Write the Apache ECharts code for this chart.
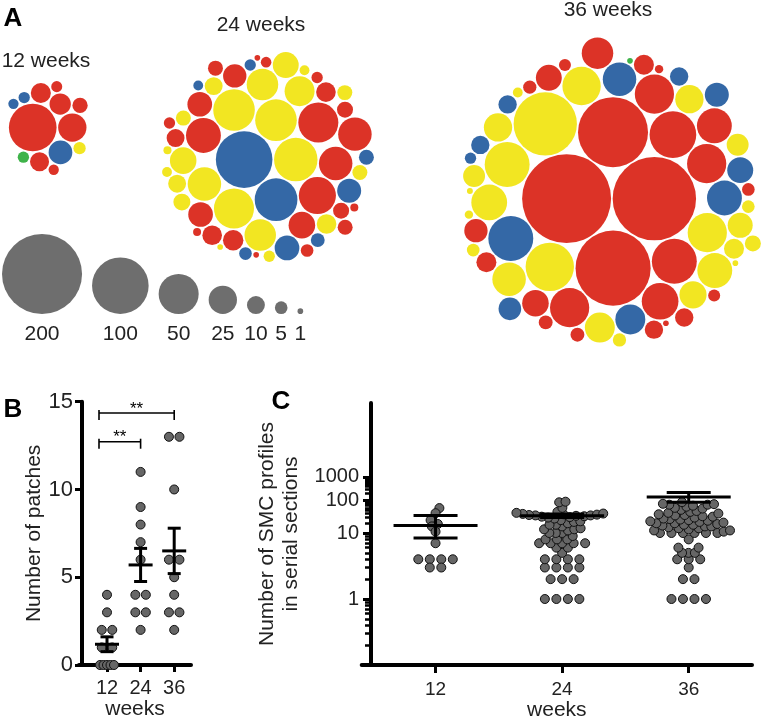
<!DOCTYPE html>
<html>
<head>
<meta charset="utf-8">
<script src="https://cdn.jsdelivr.net/npm/echarts@6/dist/echarts.min.js"></script>
<style>
  html, body { margin: 0; padding: 0; background: #fff; }
  #chart { width: 780px; height: 721px; }
</style>
</head>
<body>
<div id="chart"></div>
<script>
// ---------- data ----------
// panel A: patch sizes (SMC profiles) and reporter colour of each patch
const sizes12 = [71, 25, 12.5, 17.5, 7.3, 4.7, 11.3, 4, 14.2, 3.8, 3.3, 4, 3.3];
const cols12  = ['r', 'r', 'r', 'b', 'r', 'y', 'r', 'b', 'r', 'r', 'r', 'g', 'b'];

const sizes24 = [100, 50, 50, 43, 54, 59, 57, 54, 38, 31, 35, 13, 8, 18, 7, 4, 4, 19, 17, 7,
                 31, 12, 19, 4, 6, 1, 19, 7, 22, 10, 5, 3, 2, 12, 22, 35, 10, 21, 10, 35,
                 12, 9, 28, 8, 4, 1, 3, 3, 5, 1, 7, 2, 2, 7, 7, 3.5];
const cols24  = ['b', 'y', 'r', 'r', 'y', 'y', 'b', 'y', 'r', 'y', 'y', 'r', 'r', 'b', 'y', 'b', 'y', 'b', 'r', 'r',
                 'y', 'y', 'r', 'r', 'b', 'y', 'r', 'r', 'r', 'y', 'b', 'y', 'r', 'r', 'y', 'r', 'r', 'y', 'y', 'r',
                 'r', 'y', 'y', 'r', 'r', 'r', 'y', 'b', 'r', 'r', 'y', 'y', 'r', 'b', 'y', 'r'];

const sizes36 = [247, 217, 176, 153, 125, 73, 63, 48, 48, 63, 68, 48, 63, 38, 38, 42, 48, 40, 35, 35,
                 28, 15, 5.5, 17, 1.1, 22, 8, 4, 25, 10.5, 19.5, 4.5, 5, 21, 28, 12.5, 21, 5.5, 5, 2.2,
                 2.2, 5, 10.5, 4.5, 3, 10.5, 18, 6, 16, 38, 31, 6, 46, 1, 12.5, 25, 1, 15, 10.5, 23,
                 10.5, 1, 12.5];
const cols36  = ['r', 'r', 'r', 'r', 'y', 'y', 'r', 'r', 'y', 'b', 'r', 'r', 'y', 'b', 'r', 'r', 'r', 'y', 'b', 'y',
                 'b', 'y', 'r', 'r', 'y', 'r', 'y', 'b', 'y', 'r', 'y', 'r', 'y', 'r', 'y', 'y', 'b', 'y', 'r', 'y',
                 'r', 'y', 'b', 'r', 'y', 'b', 'b', 'r', 'b', 'y', 'r', 'r', 'y', 'r', 'r', 'y', 'g', 'y', 'r', 'y',
                 'b', 'y', 'r'];

const legendSizes = [200, 100, 50, 25, 10, 5, 1];

// panel B: number of patches per mouse
const weeks = [12, 24, 36];
const patches12 = [4, 3, 2, 2, 1, 1, 0, 0, 0, 0, 0];
const patches24 = [11, 9, 8, 7, 6, 4, 4, 3, 3, 2];
const patches36 = [13, 13, 10, 6, 6, 5, 4, 3, 3, 2];

// panel C: SMC profiles per patch
const profiles12 = [59, 41, 25, 19, 16, 11, 7, 4, 4, 4, 4, 3, 3];
const profiles24 = [1, 1, 1, 1, 2, 2, 2, 3, 3, 3, 3, 4, 4, 4, 4, 5, 6, 6, 7, 7, 7, 7, 7, 8, 8, 8, 9,
                    10, 10, 10, 12, 13, 13, 14, 16, 18, 18, 20, 22, 23, 25, 28, 30, 31, 32, 33, 34, 35, 35,
                    36, 37, 38, 39, 40, 42, 45, 60, 89, 93];
const profiles36 = [1, 1, 1, 1, 2, 2, 3, 4, 4, 4, 5, 5, 5, 6, 6, 8, 10, 10, 10, 10, 10, 10,
                    11, 12, 12, 13, 14, 14, 15, 16, 16, 17, 18, 18, 19, 20, 20, 21, 22, 23, 24, 25, 26, 27,
                    28, 30, 32, 33, 35, 36, 38, 40, 42, 45, 48, 52, 57, 60, 65, 70, 75, 75, 78, 80, 90];
// mean and error bar ends as drawn in panel C
const profMean = [17, 34, 142];
const profLow  = [8.4, 30, 89];
const profHigh = [35, 39, 222];

// panel C axis: decades and where they sit (in units of the lower decade height)
const cTickValues = [1, 10, 100, 1000];
const cAxisLog = [-1, 0, 1, 2, 3];
const cAxisPos = [0, 1, 2, 2.49, 2.85];
const cAxisTop = 3.97;

// ---------- helpers ----------
const FONT = 'Liberation Sans, Arial, Helvetica, sans-serif';
const colourMap = { r: '#dc3327', y: '#f2e622', b: '#3468a6', g: '#3fb34a' };
const diam = v => 5.66 * Math.sqrt(v);

function tOf(v) {
  const lg = Math.log10(v);
  let i = 0;
  while (i < cAxisLog.length - 2 && lg > cAxisLog[i + 1]) i++;
  const f = (lg - cAxisLog[i]) / (cAxisLog[i + 1] - cAxisLog[i]);
  return cAxisPos[i] + f * (cAxisPos[i + 1] - cAxisPos[i]);
}

// front-chain circle packing
function place(b, a, c) {
  const dx = b.x - a.x, dy = b.y - a.y, d2 = dx * dx + dy * dy;
  if (d2) {
    let a2 = a.r + c.r; a2 *= a2;
    let b2 = b.r + c.r; b2 *= b2;
    if (a2 > b2) {
      const x = (d2 + b2 - a2) / (2 * d2), y = Math.sqrt(Math.max(0, b2 / d2 - x * x));
      c.x = b.x - x * dx - y * dy; c.y = b.y - x * dy + y * dx;
    } else {
      const x = (d2 + a2 - b2) / (2 * d2), y = Math.sqrt(Math.max(0, a2 / d2 - x * x));
      c.x = a.x + x * dx - y * dy; c.y = a.y + x * dy + y * dx;
    }
  } else {
    c.x = a.x + c.r; c.y = a.y;
  }
}
function intersects(a, b) {
  const dr = a.r + b.r - 1e-6, dx = b.x - a.x, dy = b.y - a.y;
  return dr > 0 && dr * dr > dx * dx + dy * dy;
}
function score(node) {
  const a = node._, b = node.next._, ab = a.r + b.r;
  const dx = (a.x * b.r + b.x * a.r) / ab, dy = (a.y * b.r + b.y * a.r) / ab;
  return dx * dx + dy * dy;
}
function packSiblings(circles) {
  const n = circles.length;
  if (!n) return;
  let a = circles[0], b, c;
  a.x = 0; a.y = 0;
  if (n === 1) return;
  b = circles[1]; a.x = -b.r; b.x = a.r; b.y = 0;
  if (n === 2) return;
  c = circles[2]; place(b, a, c);
  a = { _: a }; b = { _: b }; c = { _: c };
  a.next = c.previous = b;
  b.next = a.previous = c;
  c.next = b.previous = a;
  pack: for (let i = 3; i < n; ++i) {
    c = circles[i];
    place(a._, b._, c);
    c = { _: c };
    let j = b.next, k = a.previous, sj = b._.r, sk = a._.r;
    do {
      if (sj <= sk) {
        if (intersects(j._, c._)) { b = j; a.next = b; b.previous = a; --i; continue pack; }
        sj += j._.r; j = j.next;
      } else {
        if (intersects(k._, c._)) { a = k; a.next = b; b.previous = a; --i; continue pack; }
        sk += k._.r; k = k.previous;
      }
    } while (j !== k.next);
    c.previous = a; c.next = b; a.next = b.previous = b = c;
    let aa = score(a);
    while ((c = c.next) !== b) {
      const ca = score(c);
      if (ca < aa) { a = c; aa = ca; }
    }
    b = a.next;
  }
}

// bubbles of one time point, centred on (cx, cy) in pixels
function cluster(sizes, cols, cx, cy) {
  const circles = sizes.map((s, i) => ({ s, col: cols[i], r: diam(s) / 2 + 0.8 }))
    .sort((p, q) => q.s - p.s);
  packSiblings(circles);
  const x0 = Math.min(...circles.map(c => c.x - c.r)), x1 = Math.max(...circles.map(c => c.x + c.r));
  const y0 = Math.min(...circles.map(c => c.y - c.r)), y1 = Math.max(...circles.map(c => c.y + c.r));
  const ox = cx - (x0 + x1) / 2, oy = cy - (y0 + y1) / 2;
  return circles.map(c => ({ value: [c.x + ox, c.y + oy, c.s], itemStyle: { color: colourMap[c.col] } }));
}

// horizontal spread of dots that share a column (pixel offsets)
function swarmOffsets(ys, rowStep, maxRow, minDist) {
  const order = ys.map((y, i) => i).sort((p, q) => ys[q] - ys[p]);
  const placed = [], off = new Array(ys.length).fill(0);
  let bal = 0, i = 0;
  while (i < order.length) {
    let j = i + 1;
    while (j < order.length && Math.abs(ys[order[j]] - ys[order[i]]) < 0.01) j++;
    const k = j - i, y = ys[order[i]];
    const step = k > 1 ? Math.min(rowStep, maxRow / (k - 1)) : 0;
    const row = [];
    for (let m = 0; m < k; m++) row.push((m - (k - 1) / 2) * step);
    const free = row.every(x => placed.every(p => Math.hypot(p.x - x, p.y - y) >= minDist));
    if (free) {
      row.forEach((x, m) => { off[order[i + m]] = x; placed.push({ x, y }); });
    } else {
      for (let m = i; m < j; m++) {
        const cands = [0];
        placed.forEach(p => {
          const dy = Math.abs(p.y - y);
          if (dy < minDist) { const w = Math.sqrt(minDist * minDist - dy * dy); cands.push(p.x - w, p.x + w); }
        });
        let best = null;
        cands.forEach(x => {
          if (placed.some(p => Math.hypot(p.x - x, p.y - y) < minDist - 1e-6)) return;
          if (best === null || Math.abs(x) < Math.abs(best) - 0.3 ||
              (Math.abs(Math.abs(x) - Math.abs(best)) <= 0.3 && x * bal < best * bal)) best = x;
        });
        off[order[m]] = best; bal += best; placed.push({ x: best, y });
      }
    }
    i = j;
  }
  return off;
}

function meanSem(arr) {
  const n = arr.length, m = arr.reduce((s, v) => s + v, 0) / n;
  const sd = Math.sqrt(arr.reduce((s, v) => s + (v - m) * (v - m), 0) / (n - 1));
  return [m, sd / Math.sqrt(n)];
}

// ---------- panel A layout ----------
const bubbleData = [].concat(
  cluster(sizes12, cols12, 48, 128),
  cluster(sizes24, cols24, 268, 157),
  cluster(sizes36, cols36, 612, 192)
);
const legendData = [];
let lx = 2;
legendSizes.forEach((s, i) => {
  const r = diam(s) / 2;
  if (i > 0) lx += 10;
  lx += r;
  legendData.push([lx, 314 - r, s]);
  lx += r;
});

// ---------- chart ----------
const chart = echarts.init(document.getElementById('chart'));
const patchSets = [patches12, patches24, patches36];
const profileSets = [profiles12, profiles24, profiles36];

const axisCol = '#000';
const textCol = '#222';
const dotStyle = { color: '#666', borderColor: '#111', borderWidth: 1, opacity: 1 };

const bStats = patchSets.map((arr, i) => { const [m, se] = meanSem(arr); return [weeks[i], m, se]; });
const cStats = weeks.map((w, i) => [w, tOf(profMean[i]), tOf(profLow[i]), tOf(profHigh[i])]);

const minorT = [];
[-1, 0, 1, 2].forEach(d => { for (let m = 2; m <= 9; m++) minorT.push(tOf(m * Math.pow(10, d))); });

function errorBars(halfMean, halfCap) {
  return function (params, api) {
    const x = api.value(0);
    const pm = api.coord([x, api.value(1)]);
    let pl, ph;
    if (api.value(3) === undefined || isNaN(api.value(3))) {
      pl = api.coord([x, api.value(1) - api.value(2)]);
      ph = api.coord([x, api.value(1) + api.value(2)]);
    } else {
      pl = api.coord([x, api.value(2)]);
      ph = api.coord([x, api.value(3)]);
    }
    const style = { stroke: '#000', lineWidth: 3 };
    return {
      type: 'group',
      children: [
        { type: 'line', shape: { x1: pm[0] - halfMean, y1: pm[1], x2: pm[0] + halfMean, y2: pm[1] }, style },
        { type: 'line', shape: { x1: pm[0], y1: ph[1], x2: pm[0], y2: pl[1] }, style },
        { type: 'line', shape: { x1: pm[0] - halfCap, y1: pl[1], x2: pm[0] + halfCap, y2: pl[1] }, style },
        { type: 'line', shape: { x1: pm[0] - halfCap, y1: ph[1], x2: pm[0] + halfCap, y2: ph[1] }, style }
      ]
    };
  };
}

// significance brackets in panel B: [from week, to week, height]
const brackets = [[12, 24, 12.72], [12, 36, 14.36]];

const option = {
  animation: false,
  backgroundColor: '#fff',
  textStyle: { fontFamily: FONT },
  grid: [
    { left: 0, top: 0, width: 780, height: 350, outerBoundsMode: 'none' },
    { left: 79, top: 401.7, width: 112, height: 263.3, outerBoundsMode: 'none' },
    { left: 361.7, top: 403, width: 390.3, height: 262, outerBoundsMode: 'none' }
  ],
  xAxis: [
    { gridIndex: 0, type: 'value', min: 0, max: 780, show: false },
    {
      gridIndex: 1, type: 'value', min: 2, max: 42,
      axisLine: { show: true, onZero: false, lineStyle: { color: axisCol, width: 4 } },
      axisTick: { show: true, customValues: weeks, length: 7, lineStyle: { color: axisCol, width: 3 } },
      axisLabel: { customValues: weeks, fontSize: 20, margin: 13, color: textCol, fontFamily: FONT },
      splitLine: { show: false },
      name: 'weeks', nameLocation: 'middle', nameGap: 34,
      nameTextStyle: { fontSize: 21, color: textCol, fontFamily: FONT }
    },
    {
      gridIndex: 2, type: 'value', min: 5, max: 42,
      axisLine: { show: true, onZero: false, lineStyle: { color: axisCol, width: 4 } },
      axisTick: { show: true, customValues: weeks, length: 8, lineStyle: { color: axisCol, width: 3 } },
      axisLabel: { customValues: weeks, fontSize: 19, margin: 15, color: textCol, fontFamily: FONT },
      splitLine: { show: false },
      name: 'weeks', nameLocation: 'middle', nameGap: 35,
      nameTextStyle: { fontSize: 21, color: textCol, fontFamily: FONT }
    }
  ],
  yAxis: [
    { gridIndex: 0, type: 'value', min: 0, max: 350, inverse: true, show: false },
    {
      gridIndex: 1, type: 'value', min: 0, max: 15, interval: 5, offset: -3, position: 'left',
      axisLine: { show: true, onZero: false, lineStyle: { color: axisCol, width: 4 } },
      axisTick: { show: true, length: 7, lineStyle: { color: axisCol, width: 3 } },
      axisLabel: { fontSize: 22, margin: 9, color: textCol, fontFamily: FONT },
      splitLine: { show: false },
      name: 'Number of patches', nameLocation: 'middle', nameRotate: 90, nameGap: 32,
      nameTextStyle: { fontSize: 21, color: textCol, fontFamily: FONT }
    },
    {
      gridIndex: 2, type: 'value', min: 0, max: cAxisTop, offset: -9.3, position: 'left',
      axisLine: { show: true, onZero: false, lineStyle: { color: axisCol, width: 4 } },
      axisTick: { show: true, customValues: cTickValues.map(tOf), length: 8, lineStyle: { color: axisCol, width: 3 } },
      axisLabel: {
        customValues: cTickValues.map(tOf), fontSize: 20, margin: 12, color: textCol, fontFamily: FONT,
        formatter: val => {
          let best = 0;
          cTickValues.forEach((v, i) => { if (Math.abs(tOf(v) - val) < Math.abs(tOf(cTickValues[best]) - val)) best = i; });
          return String(cTickValues[best]);
        }
      },
      splitLine: { show: false },
      name: 'Number of SMC profiles\nin serial sections', nameLocation: 'middle', nameRotate: 90, nameGap: 58,
      nameTextStyle: { fontSize: 21, lineHeight: 24, color: textCol, fontFamily: FONT }
    },
    {
      gridIndex: 2, type: 'value', min: 0, max: cAxisTop, offset: -9.3, position: 'left',
      axisLine: { show: false, onZero: false },
      axisTick: { show: true, customValues: minorT, length: 6, lineStyle: { color: axisCol, width: 2.5 } },
      axisLabel: { show: false },
      splitLine: { show: false }
    }
  ],
  graphic: [
    { type: 'text', x: 13, y: 19, style: { text: 'A', font: 'bold 26px ' + FONT, fill: '#000', textAlign: 'center', textVerticalAlign: 'middle' } },
    { type: 'text', x: 13, y: 410, style: { text: 'B', font: 'bold 26px ' + FONT, fill: '#000', textAlign: 'center', textVerticalAlign: 'middle' } },
    { type: 'text', x: 281, y: 402, style: { text: 'C', font: 'bold 26px ' + FONT, fill: '#000', textAlign: 'center', textVerticalAlign: 'middle' } },
    { type: 'text', x: 46, y: 61, style: { text: '12 weeks', font: '21px ' + FONT, fill: textCol, textAlign: 'center', textVerticalAlign: 'middle' } },
    { type: 'text', x: 261, y: 25, style: { text: '24 weeks', font: '21px ' + FONT, fill: textCol, textAlign: 'center', textVerticalAlign: 'middle' } },
    { type: 'text', x: 608, y: 10, style: { text: '36 weeks', font: '21px ' + FONT, fill: textCol, textAlign: 'center', textVerticalAlign: 'middle' } }
  ],
  series: [
    {
      id: 'bubbles', type: 'scatter', xAxisIndex: 0, yAxisIndex: 0, silent: true,
      symbolSize: val => diam(val[2]), itemStyle: { opacity: 1 }, data: bubbleData
    },
    {
      id: 'sizeKey', type: 'scatter', xAxisIndex: 0, yAxisIndex: 0, silent: true,
      symbolSize: val => diam(val[2]), itemStyle: { color: '#6e6e6e', opacity: 1 },
      label: {
        show: true, position: 'bottom', distance: 10, formatter: p => String(p.value[2]),
        fontSize: 21, lineHeight: 21, color: textCol, fontFamily: FONT
      },
      data: legendData
    },
    {
      id: 'bDots', type: 'scatter', xAxisIndex: 1, yAxisIndex: 1, silent: true,
      symbolSize: 9, itemStyle: dotStyle, z: 3,
      data: []
    },
    {
      id: 'bBars', type: 'custom', xAxisIndex: 1, yAxisIndex: 1, silent: true, z: 5,
      renderItem: errorBars(12, 6.5), data: bStats
    },
    {
      id: 'bSig', type: 'custom', xAxisIndex: 1, yAxisIndex: 1, silent: true, z: 5,
      renderItem: (params, api) => {
        const p1 = api.coord([api.value(0), api.value(2)]);
        const p2 = api.coord([api.value(1), api.value(2)]);
        const x1 = p1[0] - 8, x2 = p2[0], y = p1[1];
        const style = { stroke: '#000', lineWidth: 1.6 };
        return {
          type: 'group',
          children: [
            { type: 'line', shape: { x1, y1: y, x2, y2: y }, style },
            { type: 'line', shape: { x1, y1: y - 3, x2: x1, y2: y + 7 }, style },
            { type: 'line', shape: { x1: x2, y1: y - 3, x2, y2: y + 7 }, style },
            { type: 'text', x: (x1 + x2) / 2, y: y - 4,
              style: { text: '**', font: '17px ' + FONT, fill: '#000', textAlign: 'center', textVerticalAlign: 'middle' } }
          ]
        };
      },
      data: brackets
    },
    {
      id: 'cDots', type: 'scatter', xAxisIndex: 2, yAxisIndex: 2, silent: true,
      symbolSize: 9, itemStyle: dotStyle, z: 3,
      data: []
    },
    {
      id: 'cBars', type: 'custom', xAxisIndex: 2, yAxisIndex: 2, silent: true, z: 5,
      renderItem: errorBars(42, 22), data: cStats
    }
  ]
};

chart.setOption(option);

// spread the dots sideways once the scales are known
const bDots = [];
patchSets.forEach((arr, g) => {
  const ys = arr.map(v => chart.convertToPixel({ xAxisIndex: 1, yAxisIndex: 1 }, [weeks[g], v])[1]);
  const off = swarmOffsets(ys, 10.5, 14, 10);
  arr.forEach((v, i) => bDots.push({ value: [weeks[g], v], symbolOffset: [off[i], 0] }));
});
const cDots = [];
profileSets.forEach((arr, g) => {
  const ys = arr.map(v => chart.convertToPixel({ xAxisIndex: 2, yAxisIndex: 2 }, [weeks[g], tOf(v)])[1]);
  const off = swarmOffsets(ys, 11.5, 80, 6.4);
  arr.forEach((v, i) => cDots.push({ value: [weeks[g], tOf(v)], symbolOffset: [off[i], 0] }));
});
chart.setOption({ series: [{ id: 'bDots', data: bDots }, { id: 'cDots', data: cDots }] });
</script>
</body>
</html>
